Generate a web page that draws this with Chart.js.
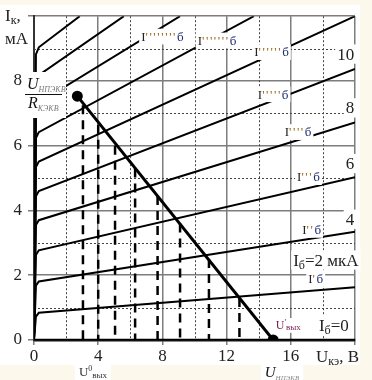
<!DOCTYPE html>
<html>
<head>
<meta charset="utf-8">
<script src="https://cdn.jsdelivr.net/npm/chart.js@4.4.0/dist/chart.umd.min.js"></script>
<style>
html, body { margin: 0; padding: 0; background: #fdf8ec; }
#wrap { position: relative; width: 372px; height: 380px; }
</style>
</head>
<body>
<div id="wrap"><canvas id="chart"></canvas></div>
<script>
// output characteristics Ik(Uke) of the transistor
const xTickLabels = [0, 4, 8, 12, 16];
const yTickLabels = [0, 2, 4, 6, 8];
const xDotted = [2, 6, 10, 14, 18];
const yDotted = [1, 3, 5, 7, 9];

// one curve per base current, [Uke, Ik]
const curveIb0 = [[0, 0], [20, 0]];
const curve1 = [[0, 0], [0.12, 0.72], [0.3, 0.84], [20, 1.63]];
const curve2 = [[0, 0], [0.12, 1.68], [0.3, 1.81], [20, 3.34]];
const curve3 = [[0, 0], [0.12, 2.63], [0.3, 2.77], [20, 5.03]];
const curve4 = [[0, 0], [0.12, 3.55], [0.3, 3.70], [20, 6.72]];
const curve5 = [[0, 0], [0.12, 4.44], [0.3, 4.60], [20, 8.37]];
const curve6 = [[0, 0], [0.12, 5.34], [0.3, 5.51], [20, 10.0]];
const curve7 = [[0, 0], [0.12, 6.24], [0.3, 6.42], [13.7, 10]];
const curve8 = [[0, 0], [0.12, 7.14], [0.3, 7.33], [9.1, 10]];
const curve9 = [[0, 0], [0.12, 7.98], [0.3, 8.18], [5.6, 10]];
const curve10 = [[0, 0], [0.12, 8.82], [0.3, 9.04], [2.85, 10]];

// load line and the projections of its crossings
const loadLine = [[2.7, 7.53], [14.9, 0]];
const dropX = [3.05, 4.0, 5.05, 6.3, 7.7, 9.1, 10.9, 12.8];
const dropTop = [7.25, 6.65, 6.0, 5.3, 4.45, 3.6, 2.5, 1.3];

// curve tags: [primes, Uke, Ik]
const curveTags = [
    ["'", 17.55, 1.90],
    ["''", 17.3, 3.40],
    ["'''", 17.1, 5.03],
    ["''''", 16.45, 6.42],
    ["'''''", 14.9, 7.59],
    ["''''''", 14.8, 8.89],
    ["'''''''", 11.4, 9.25],
    ["''''''''", 8.0, 9.37]
];
// base current values in uA written at the right edge: [text, Ik]
const rightTags = [["10", 8.83], ["8", 7.17], ["6", 5.45], ["4", 3.73]];

const SERIF = '"Liberation Serif", "Times New Roman", serif';

function pts(arr) {
    return arr.map(p => ({ x: p[0], y: p[1] }));
}

const curves = [curveIb0, curve1, curve2, curve3, curve4, curve5, curve6, curve7, curve8, curve9, curve10];
const datasets = curves.map((c, i) => ({
    label: 'Ib' + i,
    data: pts(c),
    showLine: true,
    borderColor: '#000',
    borderWidth: i === 0 ? 2.5 : 2,
    pointRadius: 0,
    order: 3
}));

dropX.forEach((x, i) => {
    datasets.push({
        label: 'drop' + i,
        data: [{ x: x, y: dropTop[i] }, { x: x, y: 0 }],
        showLine: true,
        borderColor: '#000',
        borderWidth: 2.5,
        borderDash: [9, 6],
        pointRadius: 0,
        order: 2
    });
});

datasets.push({
    label: 'load',
    data: pts(loadLine),
    showLine: true,
    borderColor: '#000',
    borderWidth: 3,
    pointRadius: 4,
    pointBackgroundColor: '#000',
    pointBorderColor: '#000',
    order: 1
});

// text made of pieces: [text, size, dy, color, italic, letterSpacing]
function rich(ctx, parts, x, y, align, box) {
    const fontOf = p => (p[4] ? 'italic ' : '') + p[1] + 'px ' + SERIF;
    let w = 0;
    parts.forEach(p => {
        ctx.font = fontOf(p);
        const sp = p[5] || 0;
        for (const ch of p[0]) w += ctx.measureText(ch).width + sp;
    });
    let x0 = x;
    if (align === 'right') x0 = x - w;
    else if (align === 'center') x0 = x - w / 2;
    const size = parts[0][1];
    if (box) {
        ctx.fillStyle = '#fff';
        ctx.fillRect(x0 - box, y - size * 0.45 - box, w + 2 * box, size * 0.9 + 2 * box);
    }
    ctx.textBaseline = 'alphabetic';
    ctx.textAlign = 'left';
    let cx = x0;
    parts.forEach(p => {
        ctx.font = fontOf(p);
        ctx.fillStyle = p[3] || '#222';
        const sp = p[5] || 0;
        for (const ch of p[0]) {
            ctx.fillText(ch, cx, y + size * 0.33 + (p[2] || 0));
            cx += ctx.measureText(ch).width + sp;
        }
    });
    return w;
}

const background = {
    id: 'background',
    beforeDraw(chart) {
        const ctx = chart.ctx;
        ctx.save();
        ctx.fillStyle = '#fdf8ec';
        ctx.fillRect(0, 0, chart.width, chart.height);
        ctx.fillStyle = '#fff';
        ctx.fillRect(0, 5, 360, 360);
        ctx.restore();
    }
};

const dottedGrid = {
    id: 'dottedGrid',
    beforeDatasetsDraw(chart) {
        const { ctx, chartArea: a, scales: { x, y } } = chart;
        ctx.save();
        ctx.strokeStyle = '#444';
        ctx.lineWidth = 1;
        ctx.setLineDash([2, 2]);
        ctx.beginPath();
        xDotted.forEach(v => {
            const px = Math.round(x.getPixelForValue(v)) + 0.5;
            ctx.moveTo(px, a.top);
            ctx.lineTo(px, a.bottom);
        });
        yDotted.forEach(v => {
            const py = Math.round(y.getPixelForValue(v)) + 0.5;
            ctx.moveTo(a.left, py);
            ctx.lineTo(a.right, py);
        });
        ctx.stroke();
        ctx.restore();
    }
};

const annotations = {
    id: 'annotations',
    afterDatasetsDraw(chart) {
        const { ctx, scales: { x, y } } = chart;
        ctx.save();

        // curve tags I'б ... I''''''''б
        curveTags.forEach(t => {
            rich(ctx, [
                ['I', 13, 0, '#222'],
                [t[0], 13, 0, '#9a6a1c', false, 1.6],
                ['б', 13, 0, '#1c2a70']
            ], x.getPixelForValue(t[1]), y.getPixelForValue(t[2]), 'center', 2);
        });

        rightTags.forEach(t => {
            rich(ctx, [[t[0], 17, 0, '#222']], x.getPixelForValue(19.95), y.getPixelForValue(t[1]), 'right', 2);
        });

        rich(ctx, [['I', 17], ['б', 12, 3], ['=2 мкА', 17]],
            x.getPixelForValue(16.15), y.getPixelForValue(2.47), 'left', 2);
        rich(ctx, [['I', 17], ['б', 12, 3], ['=0', 17]],
            x.getPixelForValue(17.75), y.getPixelForValue(0.45), 'left', 2);
        rich(ctx, [['U', 12, 0, '#7a1c52'], ["'", 9, -4, '#7a1c52'], ['вых', 9, 1, '#7a1c52']],
            x.getPixelForValue(15.06), y.getPixelForValue(0.45), 'left', 2);

        // U_npekv / R_kekv at the Ik axis
        ctx.fillStyle = '#fff';
        ctx.fillRect(23, 72, 43, 46);
        rich(ctx, [['U', 16, 0, '#111', true], ['НПЭКВ', 8, 3, '#777', true]], 27, 84, 'left', 0);
        ctx.fillStyle = '#111';
        ctx.fillRect(25, 94, 37, 1);
        rich(ctx, [['R', 16, 0, '#111', true], ['КЭКВ', 8, 3, '#777', true]], 28, 103, 'left', 0);

        // axis titles
        rich(ctx, [['I', 17], ['к', 12, 3], [',', 17]], 5, 15, 'left', 0);
        rich(ctx, [['мА', 17]], 5, 38, 'left', 0);
        rich(ctx, [['U', 17], ['кэ', 12, 3], [', В', 17]], 316, 356, 'left', 0);

        // labels under the axis
        rich(ctx, [['U', 13, 0, '#333'], ['0', 8, -5, '#333'], ['вых', 9, 2, '#333']], 93, 372, 'center', 4);
        rich(ctx, [['U', 15, 0, '#111', true], ['НПЭКВ', 7, 3, '#888', true]], 282, 372, 'center', 4);

        ctx.restore();
    }
};

new Chart(document.getElementById('chart'), {
    type: 'scatter',
    data: { datasets: datasets },
    options: {
        responsive: true,
        maintainAspectRatio: false,
        animation: false,
        layout: { padding: { top: 8, right: 17, left: 0, bottom: 0 } },
        plugins: { legend: { display: false }, tooltip: { enabled: false } },
        scales: {
            x: {
                type: 'linear',
                min: 0,
                max: 20,
                ticks: {
                    stepSize: 4,
                    padding: 1,
                    maxRotation: 0,
                    autoSkip: false,
                    color: '#222',
                    font: { family: SERIF, size: 17 },
                    callback: v => xTickLabels.includes(v) ? String(v) : ''
                },
                grid: { color: '#7d7d7d', lineWidth: 1.5, tickLength: 5, tickColor: '#7d7d7d' },
                border: { color: '#111', width: 2.5 },
                afterFit: s => { s.height = 40; }
            },
            y: {
                type: 'linear',
                min: 0,
                max: 10,
                ticks: {
                    stepSize: 2,
                    padding: 6,
                    color: '#222',
                    font: { family: SERIF, size: 17 },
                    callback: v => yTickLabels.includes(v) ? String(v) : ''
                },
                grid: { color: '#7d7d7d', lineWidth: 1.5, tickLength: 6, tickColor: '#7d7d7d' },
                border: { color: '#333', width: 2 },
                afterFit: s => { s.width = 34; }
            }
        }
    },
    plugins: [background, dottedGrid, annotations]
});
</script>
</body>
</html>
